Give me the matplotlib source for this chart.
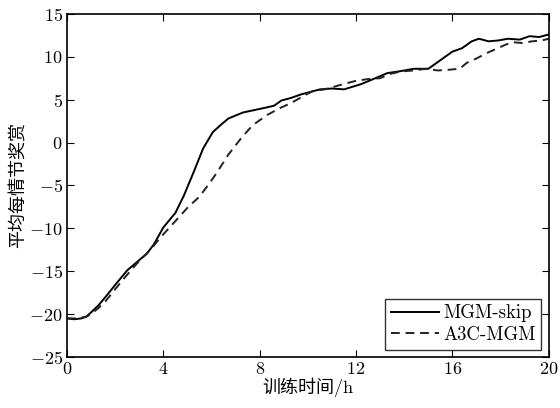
import matplotlib
matplotlib.use("Agg")
import matplotlib.pyplot as plt

plt.rcParams["font.family"] = ["cmr10", "Noto Sans CJK SC"]
plt.rcParams["mathtext.fontset"] = "cm"
plt.rcParams["axes.formatter.use_mathtext"] = True
plt.rcParams["axes.unicode_minus"] = True

# 训练曲线（读数）
skip_t = [0, 0.3, 0.6, 0.8, 1.0, 1.3, 1.6, 2.0, 2.5, 3.0, 3.3, 3.6, 4.0, 4.5,
          4.85, 5.25, 5.65, 6.05, 6.4, 6.7, 7.3, 7.8, 8.3, 8.6,
          8.9, 9.3, 9.7, 10.1, 10.5, 11.0, 11.5, 12.2, 12.8, 13.3, 13.8, 14.4,
          15.0, 15.3, 15.7, 16.0, 16.4, 16.8, 17.1, 17.5, 17.9, 18.3, 18.8,
          19.2, 19.6, 20.0]
skip_r = [-20.5, -20.6, -20.5, -20.3, -19.8, -19.0, -18.0, -16.6, -14.9, -13.7,
          -13.0, -11.9, -9.9, -8.2, -6.2, -3.5, -0.7, 1.2, 2.1, 2.8,
          3.5, 3.8, 4.1, 4.3, 4.9, 5.2, 5.6, 5.9, 6.2, 6.3, 6.2, 6.8,
          7.5, 8.1, 8.3, 8.6, 8.6, 9.2, 10.0, 10.6, 11.0, 11.8, 12.1, 11.8,
          11.9, 12.1, 12.0, 12.4, 12.3, 12.6]

a3c_t = [0, 0.4, 0.8, 1.0, 1.3, 1.6, 2.0, 2.5, 3.0, 3.5, 3.75, 4.0, 4.55, 5.0,
         5.5, 5.9, 6.2, 6.7, 7.2, 7.7, 8.3, 8.9, 9.3, 9.8, 10.2, 10.7,
         11.2, 11.6, 12.0, 12.5, 13.0, 13.4, 13.9, 14.4, 14.9, 15.4, 15.9,
         16.3, 16.6, 17.0, 17.4, 17.8, 18.2, 18.5, 18.9, 19.3, 19.7, 20.0]
a3c_r = [-20.5, -20.5, -20.3, -20.0, -19.3, -18.5, -17.1, -15.4, -13.8, -12.4,
         -11.5, -10.7, -9.0, -7.6, -6.3, -4.8, -3.6, -1.4, 0.4, 2.0, 3.2,
         4.1, 4.6, 5.4, 6.0, 6.2, 6.6, 6.9, 7.2, 7.4, 7.5, 8.0, 8.3, 8.4, 8.6,
         8.4, 8.5, 8.6, 9.3, 9.8, 10.4, 10.9, 11.4, 11.7, 11.6, 11.8, 11.9,
         12.1]

x_ticks = [0, 4, 8, 12, 16, 20]
y_ticks = [-25, -20, -15, -10, -5, 0, 5, 10, 15]

fig = plt.figure(figsize=(5.6, 4.08), dpi=100)
ax = fig.add_axes([0.1196, 0.125, 0.8604, 0.841])

ax.plot(skip_t, skip_r, color="black", linewidth=1.4, label="MGM-skip")
ax.plot(a3c_t, a3c_r, color="#222222", linewidth=1.4, linestyle=(0, (4.5, 3)),
        label="A3C-MGM")

ax.set_xlim(0, 20)
ax.set_ylim(-25, 15)
ax.set_xticks(x_ticks)
ax.set_yticks(y_ticks)
ax.tick_params(direction="in", length=5, width=0.8, top=True, right=True,
               labelsize=13, pad=3)
for sp in ax.spines.values():
    sp.set_linewidth(1.2)

ax.set_xlabel("训练时间/h", fontsize=13, labelpad=0)
ax.set_ylabel("平均每情节奖赏", fontsize=13, labelpad=2)

leg = ax.legend(loc="lower right", fontsize=13.5, frameon=True, fancybox=False,
                handlelength=2.6, handletextpad=0.2, borderpad=0.3,
                labelspacing=0.2, borderaxespad=0.4)
leg.get_frame().set_edgecolor("black")
leg.get_frame().set_linewidth(1.0)

fig.savefig("out.png", dpi=100)
